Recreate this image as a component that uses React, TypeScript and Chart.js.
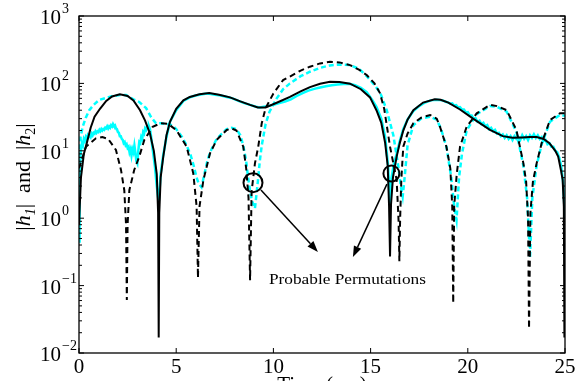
import React, { useEffect, useRef } from 'react';
import { Chart, registerables } from 'chart.js';

Chart.register(...registerables);

// ---- data: [time (sec), magnitude] ----
const h1True: [number, number][] = [
  [0, 0.8], [0.1, 4], [0.25, 9], [0.4, 13], [0.6, 22], [0.8, 32], [1.08, 42], [1.4, 55], [1.7, 64], [2.1, 69],
  [2.5, 65], [2.8, 56], [3.14, 40], [3.4, 28], [3.65, 18], [3.85, 10], [4.0, 4.5], [4.07, 1.2], [4.1, 0.017], [4.13, 1.2],
  [4.2, 4], [4.33, 8], [4.5, 17], [4.68, 27], [5.0, 42], [5.37, 56], [5.7, 63], [6.2, 69], [6.7, 72], [7.2, 68],
  [7.77, 62], [8.3, 54], [8.8, 48], [9.2, 44], [9.6, 44], [10.2, 52], [10.85, 63], [11.4, 76], [11.88, 88], [12.4, 99],
  [12.91, 106], [13.4, 105], [13.94, 99], [14.5, 82], [14.97, 62], [15.3, 40], [15.55, 26], [15.75, 13], [15.88, 6], [15.95, 1.5],
  [16.0, 0.27], [16.05, 1.6], [16.15, 4], [16.34, 8.2], [16.5, 13], [16.68, 20], [16.9, 29], [17.2, 40], [17.7, 52], [18.3, 58],
  [18.6, 57], [19.0, 52], [19.6, 41], [20.27, 30], [21.14, 20.5], [21.8, 16.5], [22.3, 15.6], [22.8, 15.8], [23.2, 16], [23.54, 16],
  [23.9, 15], [24.2, 13], [24.5, 10], [24.65, 8.2], [24.8, 5], [24.88, 3.7], [24.94, 1.5], [24.97, 0.017],
];

const h2True: [number, number][] = [
  [0, 5.5], [0.36, 11.5], [0.87, 15.3], [1.2, 16], [1.5, 15], [1.9, 10.3], [2.16, 5.2], [2.33, 2.6], [2.42, 0.8], [2.46, 0.061],
  [2.5, 0.8], [2.59, 2.6], [2.84, 5.2], [3.1, 8.2], [3.36, 14.5], [3.79, 22.7], [4.2, 25.6], [4.6, 25], [5.02, 20], [5.54, 11.5],
  [5.88, 4.6], [6.05, 1.5], [6.12, 0.13], [6.2, 1.5], [6.4, 3.7], [6.74, 9.2], [7.08, 14.5], [7.6, 20.4], [7.85, 21.5], [8.1, 20],
  [8.45, 11.5], [8.6, 5.5], [8.72, 2], [8.8, 0.12], [8.88, 2.5], [9.05, 6.5], [9.22, 11.5], [9.4, 25.6], [9.6, 43], [10.0, 71],
  [10.5, 112], [10.85, 126], [11.4, 155], [11.88, 177], [12.4, 198], [12.91, 210], [13.4, 205], [13.94, 187], [14.4, 160], [14.8, 133],
  [15.2, 100], [15.48, 72], [15.7, 42], [16.0, 11.5], [16.34, 3.7], [16.44, 0.9], [16.48, 0.23], [16.52, 1], [16.58, 3.7], [16.68, 11.5],
  [16.9, 18], [17.2, 25.6], [17.6, 31], [18.06, 34], [18.4, 30], [18.57, 22.7], [18.9, 11.5], [19.1, 5.5], [19.2, 1.5], [19.25, 0.055],
  [19.3, 1.5], [19.43, 4.5], [19.6, 11.5], [19.94, 22.7], [20.46, 36], [21.14, 48], [21.5, 46], [22.0, 40], [22.5, 20.4], [22.86, 6.5],
  [23.0, 3.5], [23.1, 1], [23.15, 0.023], [23.22, 1.2], [23.35, 3.5], [23.54, 6.5], [23.8, 13], [24.23, 28.6], [24.74, 36], [25, 36],
];

const h1Est: [number, number][] = [
  [0, 0.45], [0.03, 3], [0.08, 9], [0.15, 13], [0.2, 12], [0.25, 15], [0.3, 14], [0.35, 16], [0.4, 15], [0.45, 17],
  [0.5, 16], [0.55, 17], [0.6, 16], [0.65, 18], [0.7, 17], [0.75, 18.5], [0.8, 18], [0.85, 19.5], [0.9, 18.5], [0.95, 19.5],
  [1.0, 19], [1.05, 20.5], [1.1, 19.5], [1.15, 21], [1.2, 20], [1.25, 21], [1.3, 20.5], [1.35, 22], [1.4, 21.5], [1.45, 23],
  [1.5, 21.5], [1.55, 23], [1.6, 22], [1.65, 24], [1.7, 23], [1.75, 25], [1.8, 23.5], [1.85, 24], [1.9, 21.5], [1.95, 21],
  [2.0, 19], [2.05, 18.5], [2.1, 16.5], [2.15, 16.5], [2.2, 15], [2.25, 14.5], [2.3, 13], [2.35, 13.5], [2.4, 12], [2.45, 12.5],
  [2.5, 11], [2.55, 11.5], [2.6, 9.5], [2.65, 10.5], [2.7, 8.5], [2.75, 10.5], [2.8, 9.5], [2.85, 12], [2.9, 9.5], [2.95, 7],
  [3.0, 6.5], [3.05, 10], [3.1, 13.5], [3.15, 13], [3.2, 16], [3.25, 15], [3.3, 19], [3.35, 18], [3.4, 21.5], [3.45, 20.5],
  [3.5, 23], [3.55, 22], [3.6, 23], [3.65, 21], [3.7, 17], [3.75, 13], [3.8, 10], [3.9, 6], [4.0, 3], [4.1, 1.7],
  [4.2, 4.5], [4.33, 8.5], [4.5, 16], [4.68, 27], [5.0, 40], [5.37, 55], [5.7, 62], [6.0, 66], [6.2, 68], [6.5, 70],
  [6.7, 70], [7.0, 68], [7.3, 66], [7.6, 63], [7.9, 60], [8.2, 55], [8.5, 51], [8.8, 48], [9.1, 45], [9.3, 44],
  [9.5, 45], [9.7, 46], [10.0, 48], [10.3, 51], [10.6, 54], [10.9, 58], [11.2, 65], [11.5, 72], [11.8, 78], [12.1, 83],
  [12.4, 87], [12.7, 91], [13.0, 94], [13.3, 96], [13.6, 98], [13.9, 99], [14.2, 94], [14.5, 86], [14.8, 74], [15.1, 56],
  [15.3, 45], [15.55, 30], [15.75, 16], [15.9, 6], [16.0, 1.5], [16.08, 4], [16.2, 6.5], [16.34, 9], [16.5, 14], [16.68, 21],
  [16.9, 29], [17.2, 39], [17.5, 46], [17.8, 52], [18.1, 56], [18.4, 57], [18.7, 56], [18.9, 53], [19.0, 52], [19.1, 50],
  [19.2, 50.5], [19.3, 47], [19.4, 47.5], [19.5, 44], [19.6, 44.5], [19.7, 41], [19.8, 41], [19.9, 37], [20.0, 37.5], [20.1, 33.5],
  [20.2, 33.5], [20.3, 30], [20.4, 30.5], [20.5, 27], [20.6, 28], [20.7, 25], [20.8, 26], [20.9, 23], [21.0, 24], [21.1, 21],
  [21.2, 22], [21.3, 19.5], [21.4, 20.5], [21.5, 18], [21.6, 18.5], [21.7, 16.5], [21.8, 17.5], [21.9, 15.5], [22.0, 17], [22.1, 15],
  [22.2, 16.5], [22.3, 14.5], [22.4, 16.5], [22.5, 15], [22.6, 16], [22.7, 14.5], [22.8, 17], [22.9, 15], [23.0, 16.5], [23.1, 14.5],
  [23.2, 17], [23.3, 15.5], [23.4, 17.5], [23.5, 15.5], [23.6, 17], [23.7, 15], [23.8, 16], [23.9, 14], [24.0, 14.5], [24.1, 12.5],
  [24.2, 13], [24.3, 11.5], [24.4, 11.5], [24.5, 10], [24.6, 9.5], [24.7, 8], [24.8, 6], [24.9, 3.5], [25.0, 1.0],
];

const h2Est: [number, number][] = [
  [0, 8], [0.08, 16], [0.19, 22.7], [0.35, 31], [0.53, 40], [0.75, 48], [1.04, 57], [1.4, 61], [1.73, 65], [2.1, 67],
  [2.42, 67], [2.8, 58], [3.1, 53], [3.45, 43], [3.7, 32], [3.85, 28], [3.96, 25.6], [4.2, 25.6], [4.47, 25], [4.8, 24],
  [5.0, 21], [5.3, 16], [5.54, 12], [5.75, 8.5], [5.9, 6], [6.05, 4], [6.15, 3.3], [6.3, 2.9], [6.45, 4.5], [6.6, 7],
  [6.74, 9.5], [7.08, 15], [7.35, 18], [7.6, 21], [7.85, 22], [8.1, 21], [8.3, 17], [8.45, 12], [8.6, 7], [8.7, 4],
  [8.8, 2.5], [8.9, 1.8], [9.05, 1.4], [9.2, 3.5], [9.3, 7], [9.4, 12], [9.6, 25], [9.8, 38], [10.17, 60], [10.5, 82],
  [10.85, 100], [11.4, 128], [11.88, 149], [12.4, 170], [12.91, 185], [13.4, 190], [13.94, 187], [14.4, 165], [14.8, 128], [15.2, 95],
  [15.5, 72], [15.83, 40], [16.17, 17], [16.42, 6], [16.55, 3], [16.65, 2.1], [16.75, 4], [16.9, 12], [17.2, 24], [17.6, 30],
  [18.06, 32], [18.4, 29], [18.6, 22], [18.9, 11.5], [19.15, 4], [19.3, 1.5], [19.42, 0.94], [19.55, 4], [19.7, 9], [19.94, 20],
  [20.46, 35], [21.14, 46], [21.5, 45], [22.0, 38], [22.5, 19], [22.86, 6], [23.05, 2], [23.2, 0.26], [23.32, 2], [23.54, 6],
  [23.8, 12.5], [24.23, 27], [24.74, 34], [25, 33],
];

const xTickValues = [0, 5, 10, 15, 20, 25];
const yTickExponents = [-2, -1, 0, 1, 2, 3];
const xLabel = 'Time (sec)';
const noteText = 'Probable Permutations';

// annotation anchors in data coordinates
const circleA = { x: 8.95, y: 3.37 };
const circleB = { x: 16.07, y: 4.6 };
const arrowA = { x0: 9.36, y0: 2.62, x1: 12.29, y1: 0.316 };
const arrowB = { x0: 15.84, y0: 3.2, x1: 14.09, y1: 0.265 };
const noteAnchor = { x: 9.77, y: 0.107 };

const SERIF = '"Liberation Serif", "Times New Roman", serif';

const toPts = (a: [number, number][]) => a.map(([x, y]) => ({ x, y }));

const overlayPlugin = {
  id: 'overlay',
  afterDraw(chart: any) {
    const ctx: CanvasRenderingContext2D = chart.ctx;
    const xs = chart.scales.x;
    const ys = chart.scales.y;
    const { left, right, top, bottom } = chart.chartArea;
    ctx.save();
    ctx.strokeStyle = '#000';
    ctx.fillStyle = '#000';
    ctx.lineWidth = 1.3;
    ctx.strokeRect(left, top, right - left, bottom - top);

    const seg = (x0: number, y0: number, x1: number, y1: number) => {
      ctx.beginPath();
      ctx.moveTo(x0, y0);
      ctx.lineTo(x1, y1);
      ctx.stroke();
    };

    // x ticks + labels
    ctx.lineWidth = 1;
    ctx.font = `21px ${SERIF}`;
    ctx.textAlign = 'center';
    ctx.textBaseline = 'alphabetic';
    for (const t of xTickValues) {
      const px = xs.getPixelForValue(t);
      seg(px, bottom, px, bottom - 5);
      seg(px, top, px, top + 5);
      ctx.fillText(String(t), px, 373);
    }

    // y ticks + labels
    for (const e of yTickExponents) {
      const py = ys.getPixelForValue(Math.pow(10, e));
      seg(left, py, left + 5, py);
      seg(right, py, right - 5, py);
      if (e < 3) {
        for (let m = 2; m <= 9; m++) {
          const pm = ys.getPixelForValue(m * Math.pow(10, e));
          seg(left, pm, left + 3, pm);
          seg(right, pm, right - 3, pm);
        }
      }
      ctx.textAlign = 'left';
      ctx.font = `21px ${SERIF}`;
      ctx.fillText('10', 40, py + 8);
      const w = ctx.measureText('10').width;
      ctx.font = `14px ${SERIF}`;
      ctx.fillText(e < 0 ? '\u2212' + String(-e) : String(e), 40 + w + 1, py - 3);
    }

    // y axis label
    ctx.save();
    ctx.translate(22, 177);
    ctx.rotate(-Math.PI / 2);
    const parts: { t: string; f: string; dy: number }[] = [
      { t: '|', f: `22px ${SERIF}`, dy: 0 },
      { t: 'h', f: `italic 22px ${SERIF}`, dy: 0 },
      { t: '1', f: `italic 14px ${SERIF}`, dy: 5 },
      { t: '|', f: `22px ${SERIF}`, dy: 0 },
      { t: '  and  ', f: `22px ${SERIF}`, dy: 0 },
      { t: '|', f: `22px ${SERIF}`, dy: 0 },
      { t: 'h', f: `italic 22px ${SERIF}`, dy: 0 },
      { t: '2', f: `14px ${SERIF}`, dy: 5 },
      { t: '|', f: `22px ${SERIF}`, dy: 0 },
    ];
    let total = 0;
    for (const p of parts) {
      ctx.font = p.f;
      total += ctx.measureText(p.t).width;
    }
    let cx = -total / 2;
    ctx.textAlign = 'left';
    for (const p of parts) {
      ctx.font = p.f;
      ctx.fillText(p.t, cx, 8 + p.dy);
      cx += ctx.measureText(p.t).width;
    }
    ctx.restore();

    // x axis label (mostly cut off by the bottom edge)
    ctx.font = `21px ${SERIF}`;
    ctx.textAlign = 'center';
    ctx.fillText(xLabel, (left + right) / 2, 391);

    // annotations
    ctx.lineWidth = 2;
    const circ = (c: { x: number; y: number }, r: number) => {
      ctx.beginPath();
      ctx.arc(xs.getPixelForValue(c.x), ys.getPixelForValue(c.y), r, 0, Math.PI * 2);
      ctx.stroke();
    };
    circ(circleA, 9.5);
    circ(circleB, 8);

    const arrow = (a: { x0: number; y0: number; x1: number; y1: number }) => {
      const x0 = xs.getPixelForValue(a.x0), y0 = ys.getPixelForValue(a.y0);
      const x1 = xs.getPixelForValue(a.x1), y1 = ys.getPixelForValue(a.y1);
      const ang = Math.atan2(y1 - y0, x1 - x0);
      const L = 11, W = 4;
      const bx = x1 - L * Math.cos(ang), by = y1 - L * Math.sin(ang);
      ctx.lineWidth = 1.5;
      seg(x0, y0, bx, by);
      ctx.beginPath();
      ctx.moveTo(x1, y1);
      ctx.lineTo(bx + W * Math.sin(ang), by - W * Math.cos(ang));
      ctx.lineTo(bx - W * Math.sin(ang), by + W * Math.cos(ang));
      ctx.closePath();
      ctx.fill();
    };
    arrow(arrowA);
    arrow(arrowB);

    ctx.font = `15px ${SERIF}`;
    ctx.textAlign = 'left';
    const tw = ctx.measureText(noteText).width;
    const nx = xs.getPixelForValue(noteAnchor.x), ny = ys.getPixelForValue(noteAnchor.y);
    ctx.save();
    ctx.translate(nx, ny);
    ctx.scale(157 / tw, 1);
    ctx.fillText(noteText, 0, 0);
    ctx.restore();

    ctx.restore();
  },
};

export default function App() {
  const ref = useRef<HTMLCanvasElement>(null);
  useEffect(() => {
    if (!ref.current) return;
    const chart = new Chart(ref.current, {
      type: 'line',
      data: {
        datasets: [
          { data: toPts(h1True), borderColor: '#000000', borderWidth: 2, pointRadius: 0, fill: false },
          { data: toPts(h2True), borderColor: '#000000', borderWidth: 2, borderDash: [6, 4], pointRadius: 0, fill: false },
          { data: toPts(h1Est), borderColor: '#00FFFF', borderWidth: 2.5, pointRadius: 0, fill: false },
          { data: toPts(h2Est), borderColor: '#00FFFF', borderWidth: 2.5, borderDash: [5, 3], pointRadius: 0, fill: false },
        ],
      },
      options: {
        responsive: false,
        animation: false,
        parsing: true,
        layout: { padding: { left: 79, right: 11, top: 16, bottom: 28 } },
        plugins: { legend: { display: false }, tooltip: { enabled: false } },
        elements: { line: { tension: 0 }, point: { radius: 0 } },
        scales: {
          x: { type: 'linear', min: 0, max: 25, display: false },
          y: { type: 'logarithmic', min: 0.01, max: 1000, display: false },
        },
      },
      plugins: [overlayPlugin],
    });
    return () => chart.destroy();
  }, []);
  return (
    <div style={{ position: 'absolute', left: 0, top: 0, width: 576, height: 381, background: '#fff' }}>
      <canvas ref={ref} width={576} height={381} style={{ display: 'block', width: 576, height: 381 }} />
    </div>
  );
}
